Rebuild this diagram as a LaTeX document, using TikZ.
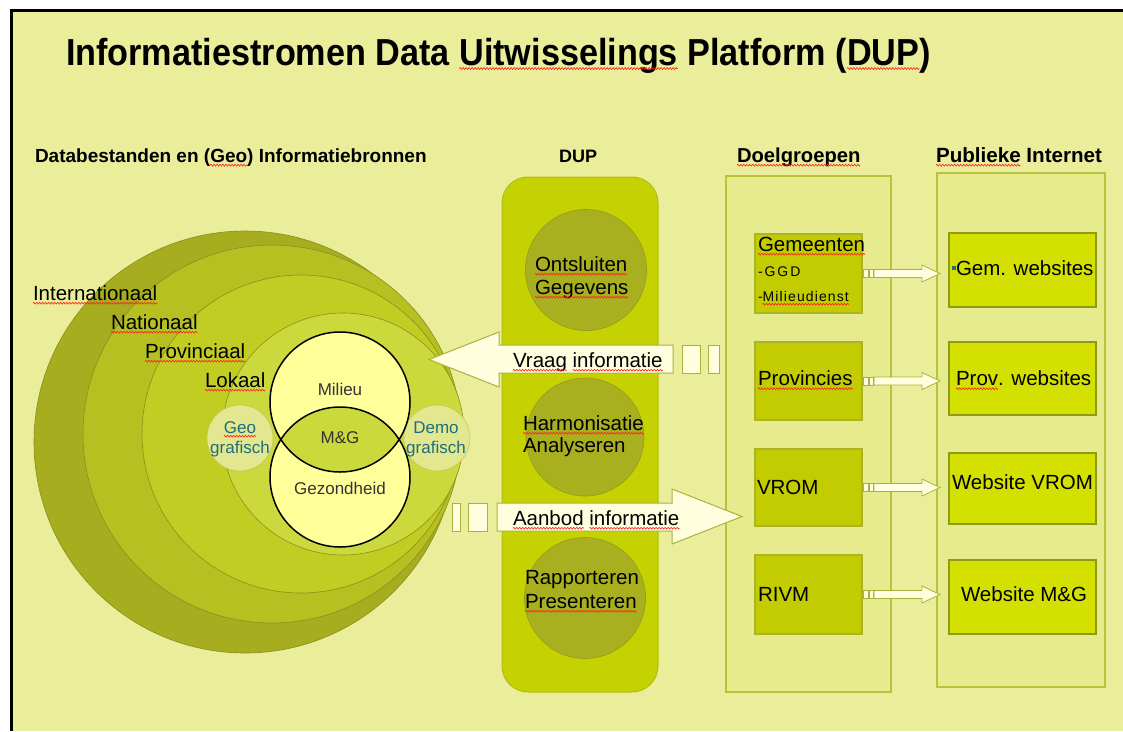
\documentclass[tikz,border=0pt]{standalone}
\usepackage{fontspec}
\setmainfont{Liberation Sans}
\usepackage{graphicx}
\usetikzlibrary{calc,decorations.pathmorphing}
\definecolor{bg}{HTML}{EAEE9A}
\definecolor{ringA}{HTML}{A6AD1F}
\definecolor{ringB}{HTML}{B6C021}
\definecolor{ringC}{HTML}{C1CD23}
\definecolor{ringD}{HTML}{CBD93C}
\definecolor{ringline}{HTML}{8A901A}
\definecolor{venn}{HTML}{FFFF99}
\definecolor{geofill}{HTML}{E3E78F}
\definecolor{geoline}{HTML}{C2CA55}
\definecolor{geotext}{HTML}{1B6E7E}
\definecolor{dup}{HTML}{C5D100}
\definecolor{dupline}{HTML}{B3BD10}
\definecolor{dupcirc}{HTML}{A9B020}
\definecolor{dupcircline}{HTML}{949B1C}
\definecolor{cont}{HTML}{E6EB8E}
\definecolor{contline}{HTML}{B8C23A}
\definecolor{doel}{HTML}{C3CC00}
\definecolor{doelline}{HTML}{AAB426}
\definecolor{pub}{HTML}{D4E000}
\definecolor{publine}{HTML}{8E9A18}
\definecolor{cream}{HTML}{FFFFE0}
\definecolor{creamline}{HTML}{A9B23A}
\definecolor{vtext}{HTML}{333333}
\definecolor{squigred}{HTML}{FF2020}
\newsavebox\sqbox
\newcommand\sqw[1]{\sbox\sqbox{#1}\leavevmode\rlap{\usebox\sqbox}%
  \tikz[baseline=0pt, x=1pt, y=1pt]{\path[use as bounding box] (0,0) rectangle (\the\wd\sqbox,0.1);
  \draw[squigred, line width=0.6pt, decorate, decoration={zigzag, amplitude=0.9pt, segment length=3pt}] (0,-3.2) -- (\the\wd\sqbox,-3.2);}}
\newcommand\labfont{\fontsize{20.5}{24}\selectfont}
\newcommand\headfont{\bfseries\fontsize{19}{22}\selectfont}
\tikzset{
  lab/.style={anchor=base west, font=\labfont},
  head/.style={anchor=base west, font=\headfont},
  ring/.style={circle, draw=ringline, line width=0.6pt},
  vlab/.style={anchor=base, font=\fontsize{17}{20}\selectfont, text=vtext},
  glab/.style={anchor=base, font=\fontsize{17}{20}\selectfont, text=geotext},
  geocirc/.style={circle, fill=geofill, draw=geoline, line width=0.6pt, minimum size=66pt},
  dupc/.style={circle, fill=dupcirc, draw=dupcircline, line width=0.6pt, minimum size=121pt},
  container/.style={draw=contline, fill=cont, line width=1.5pt},
  doelbox/.style={draw=doelline, fill=doel, line width=1.2pt, minimum width=107pt},
  pubbox/.style={draw=publine, fill=pub, line width=1.5pt, minimum width=147pt},
  arr/.style={fill=cream, draw=creamline, line width=1pt},
  smallarrow/.pic={
    \filldraw[arr, line width=0.8pt] (1.3,-4) rectangle (6,4);
    \filldraw[arr, line width=0.8pt] (7,-4) rectangle (11.3,4);
    \filldraw[arr, line width=0.8pt] (12,-4) -- (60,-4) -- (60,-8.5) -- (78,0) -- (60,8.5) -- (60,4) -- (12,4) -- cycle;
  }
}
\begin{document}
\begin{tikzpicture}[x=1pt, y=-1pt, every node/.style={inner sep=0pt, outer sep=0pt}]
\useasboundingbox (0,0) rectangle (1123,731);
\fill[white] (0,0) rectangle (1123,731);
\fill[bg] (11.8,10.5) rectangle (1123,731);
\draw[line width=3pt] (11.8,731) -- (11.8,10.5) -- (1123,10.5);

% title and headings
\node[anchor=base west, font=\bfseries\fontsize{34.2}{40}\selectfont] (title) at (66,65)
  {\scalebox{1}[1.1]{Informatiestromen Data \sqw{Uitwisselings} Platform (\sqw{DUP})}};
\node[head] (h1) at (35,162) {Databestanden en (\sqw{Geo}) Informatiebronnen};
\node[head, font=\bfseries\fontsize{18}{22}\selectfont] (h2) at (559,162) {DUP};
\node[head, font=\bfseries\fontsize{20.2}{22}\selectfont] (h3) at (737,162) {\sqw{Doelgroepen}};
\node[head, font=\bfseries\fontsize{20.6}{22}\selectfont] (h4) at (936,162) {\sqw{Publieke} Internet};

% nested circles
\node[ring, fill=ringA, minimum size=422pt] (intl) at (245,442) {};
\node[ring, fill=ringB, minimum size=378pt] (nat) at (272,434) {};
\node[ring, fill=ringC, minimum size=318pt] (prov) at (301,434) {};
\node[ring, fill=ringD, minimum size=242pt] (lok) at (343,434) {};
\node[lab] (lintl) at (33,300) {\sqw{Internationaal}};
\node[lab] (lnat) at (111,329) {\sqw{Nationaal}};
\node[lab] (lprov) at (145,358) {\sqw{Provinciaal}};
\node[lab] (llok) at (205,387) {\sqw{Lokaal}};

% geo / demo
\node[geocirc] (geo) at (240,438) {};
\node[geocirc] (demo) at (437,438) {};
\node[glab] (geo1) at (240,433) {\sqw{Geo}};
\node[glab] (geo2) at (240,453) {grafisch};
\node[glab] (demo1) at (436,433) {Demo};
\node[glab] (demo2) at (436,453) {grafisch};

% venn
\node[circle, fill=venn, minimum size=140pt] (mil) at (340,402) {};
\node[circle, fill=venn, minimum size=140pt] (gez) at (340,477) {};
\begin{scope}
  \clip (mil.center) circle (70pt);
  \fill[ringD] (gez.center) circle (70pt);
\end{scope}
\draw[line width=1.5pt] (mil.center) circle (70pt) (gez.center) circle (70pt);
\node[vlab] (lmil) at (340,395) {Milieu};
\node[vlab] (lmg) at (340,443) {M\&G};
\node[vlab] (lgez) at (340,494) {Gezondheid};

% DUP column
\node[draw=dupline, fill=dup, line width=1pt, rounded corners=26pt, minimum width=156pt, minimum height=515pt] (dupcol) at (580,434.5) {};
\node[dupc] (ont) at (586,270) {};
\node[dupc, minimum size=118pt] (harm) at (585,437) {};
\node[dupc] (rap) at (585,598) {};
\node[lab] (t1) at (535,271) {\sqw{Ontsluiten}};
\node[lab] (t2) at (535,294) {\sqw{Gegevens}};
\node[lab] (t3) at (523,430) {\sqw{Harmonisatie}};
\node[lab] (t4) at (523,452) {Analyseren};
\node[lab] (t5) at (525,584) {Rapporteren};
\node[lab] (t6) at (525,608) {\sqw{Presenteren}};

% containers
\node[container, minimum width=165pt, minimum height=516pt] (doelc) at (808.5,434) {};
\node[container, minimum width=168pt, minimum height=514pt] (pubc) at (1021,430) {};

% doelgroepen boxes
\node[doelbox, minimum height=79pt] (gem) at (808.5,273.5) {};
\node[doelbox, minimum height=78pt] (provb) at (808.5,381) {};
\node[doelbox, minimum height=77pt] (vrom) at (808.5,487.5) {};
\node[doelbox, minimum height=79pt] (rivm) at (808.5,594.5) {};
\node[lab] (d1) at (758,251) {\sqw{Gemeenten}};
\node[anchor=base west, font=\fontsize{14}{16}\selectfont\addfontfeatures{LetterSpace=14}] (d2) at (758,276) {-GGD};
\node[anchor=base west, font=\fontsize{14}{16}\selectfont\addfontfeatures{LetterSpace=8}] (d3) at (758,301) {-\sqw{Milieudienst}};
\node[lab] (d4) at (758,385.5) {\sqw{Provincies}};
\node[lab] (d5) at (757,494) {VROM};
\node[lab] (d6) at (758,601) {RIVM};

% publieke boxes
\node[pubbox, minimum height=74pt] (pgem) at (1022.5,270) {};
\node[pubbox, minimum height=73pt] (pprov) at (1022.5,378.5) {};
\node[pubbox, minimum height=71pt] (pvrom) at (1022.5,488.5) {};
\node[pubbox, minimum height=74pt] (pmg) at (1022.5,597) {};
\node[lab] (p1) at (952,275) {\textcolor{geotext}{\rule[0.22em]{4pt}{4pt}}Gem. websites};
\node[lab] (p2) at (956,385.5) {\sqw{Prov}. websites};
\node[lab] (p3) at (952,489) {Website VROM};
\node[lab] (p4) at (961,601) {Website M\&G};

% big arrows
\filldraw[arr] (673,345) -- (499,345) -- (499,332) -- (429,359.5) -- (499,387) -- (499,373) -- (673,373) -- cycle;
\filldraw[arr] (682,345) rectangle (700,373);
\filldraw[arr] (708,345) rectangle (719,373);
\node[lab] (vraag) at (513,367) {\sqw{Vraag} \sqw{informatie}};
\filldraw[arr] (452,503) rectangle (460,531);
\filldraw[arr] (468,503) rectangle (487,531);
\filldraw[arr] (497,503) -- (672,503) -- (672,489) -- (742,516.5) -- (672,544) -- (672,531) -- (497,531) -- cycle;
\node[lab] (aanbod) at (513,525) {\sqw{Aanbod} \sqw{informatie}};

% small arrows
\pic at (gem.east) {smallarrow};
\pic at (provb.east) {smallarrow};
\pic at (vrom.east) {smallarrow};
\pic at (rivm.east) {smallarrow};
\end{tikzpicture}
\end{document}
